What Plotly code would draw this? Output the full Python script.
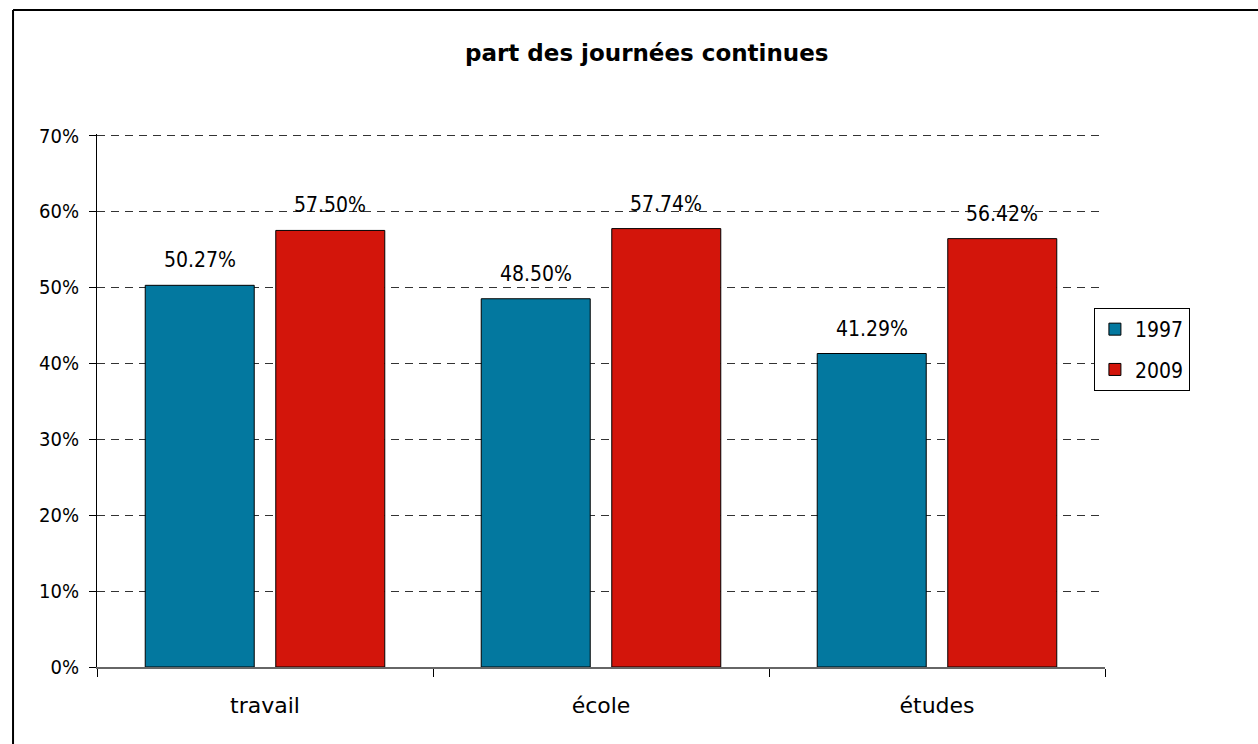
import plotly.graph_objects as go

categories = ["travail", "école", "études"]
share_1997 = [0.5027, 0.4850, 0.4129]
share_2009 = [0.5750, 0.5774, 0.5642]
series_names = ["1997", "2009"]
y_ticks = [0, 0.1, 0.2, 0.3, 0.4, 0.5, 0.6, 0.7]

WORD_FONT = "DejaVu Sans, sans-serif"
NUM_FONT = "DejaVu Sans Condensed, DejaVu Sans, sans-serif"
BLUE = "#03789F"
RED = "#D3150B"

# plot area geometry (pixels)
PLOT_TOP, PLOT_BOTTOM = 134, 667
PLOT_H = PLOT_BOTTOM - PLOT_TOP


def py(px):
    """Convert a pixel row to a paper y coordinate."""
    return (PLOT_BOTTOM - px) / PLOT_H


fig = go.Figure()
for name, vals, col in zip(series_names, [share_1997, share_2009], [BLUE, RED]):
    fig.add_trace(go.Bar(
        x=categories, y=vals, name=name, legendgroup=name,
        marker=dict(color=col, line=dict(color="black", width=1)),
    ))

# value labels above each bar
for vals, shift in [(share_1997, -65), (share_2009, 65)]:
    for c, v in zip(categories, vals):
        fig.add_annotation(
            x=c, y=v, xref="x", yref="y", xshift=shift, yshift=11,
            yanchor="bottom", showarrow=False,
            text=f"{v*100:.2f}%", font=dict(family=NUM_FONT, size=21, color="black"),
        )

# chart title
fig.add_annotation(
    x=0.5456, y=py(53), xref="paper", yref="paper", yanchor="middle",
    showarrow=False, text="<b>part des journées continues</b>",
    font=dict(family=WORD_FONT, size=23, color="black"),
)

# outer frame (left and top edges)
fig.add_shape(type="line", xref="paper", yref="paper",
              x0=-0.0833, x1=1.2, y0=py(10), y1=py(10),
              line=dict(color="black", width=2))
fig.add_shape(type="line", xref="paper", yref="paper",
              x0=-0.0833, x1=-0.0833, y0=-0.2, y1=py(10),
              line=dict(color="black", width=2))

fig.update_layout(
    width=1258, height=744,
    margin=dict(l=97, r=153, t=PLOT_TOP, b=744 - PLOT_BOTTOM),
    paper_bgcolor="white", plot_bgcolor="white",
    font=dict(family=NUM_FONT, size=20, color="black"),
    barmode="group", bargap=0.223, bargroupgap=0.165,
    showlegend=True,
    legend=dict(
        x=0.989, y=py(308), xanchor="left", yanchor="top",
        bordercolor="black", borderwidth=1, bgcolor="white",
        font=dict(family=NUM_FONT, size=21), tracegroupgap=10,
    ),
    xaxis=dict(
        tickson="boundaries", ticks="outside", ticklen=8, tickcolor="black",
        showline=True, linecolor="#666666", linewidth=2,
        showgrid=False, tickfont=dict(family=WORD_FONT, size=22),
        ticklabelstandoff=18,
    ),
    yaxis=dict(
        range=[0, 0.702], tickvals=y_ticks, tickformat=".0%",
        ticks="outside", ticklen=7, tickcolor="black",
        showline=True, linecolor="black", linewidth=1,
        showgrid=True, gridcolor="#333333", gridwidth=1, griddash="8px,6px",
        zeroline=False, tickfont=dict(family=NUM_FONT, size=20),
        ticklabelstandoff=6,
    ),
)

fig.write_html("out.html")
